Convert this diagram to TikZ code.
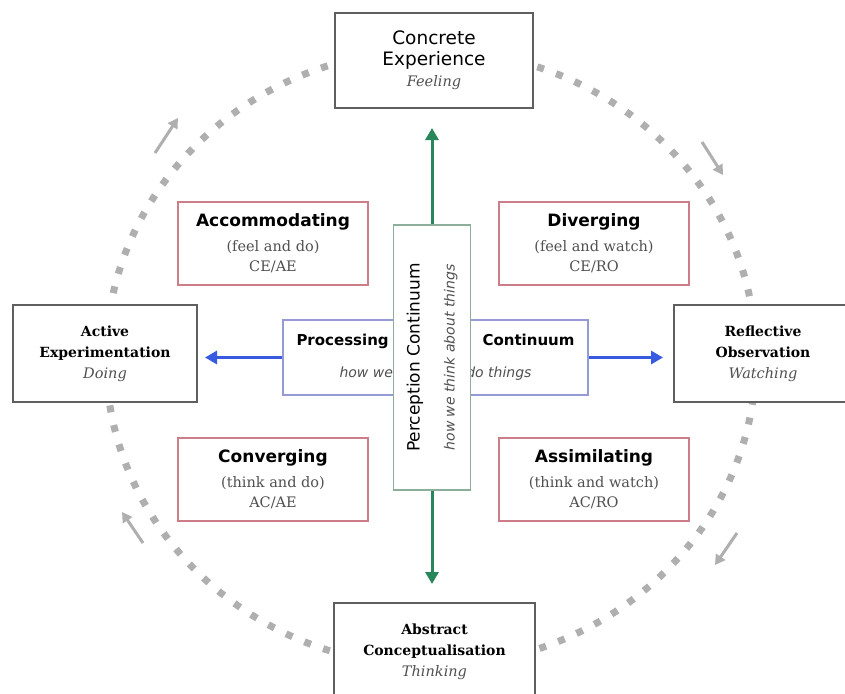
\documentclass[tikz,border=0pt]{standalone}
\usepackage{fontspec}
\setmainfont{DejaVu Serif}
\setsansfont{DejaVu Sans}
\usetikzlibrary{arrows.meta}
\definecolor{outerline}{RGB}{95,95,95}
\definecolor{quadline}{RGB}{205,125,135}
\definecolor{procline}{RGB}{150,155,215}
\definecolor{percline}{RGB}{140,175,155}
\definecolor{greenarrow}{RGB}{40,135,90}
\definecolor{bluearrow}{RGB}{55,90,225}
\definecolor{dotgray}{RGB}{175,175,175}
\definecolor{subtext}{RGB}{80,80,80}
\begin{document}
\begin{tikzpicture}[x=1pt,y=-1pt,
  outerbox/.style={draw=outerline, line width=2pt, fill=white, align=center, inner sep=0pt},
  cebox/.style={outerbox, font=\sffamily\fontsize{18.5}{21}\selectfont},
  serifbox/.style={outerbox, font=\rmfamily\bfseries\fontsize{14}{21}\selectfont},
  quadbox/.style={draw=quadline, line width=1.4pt, fill=white, align=center, inner sep=0pt,
    minimum width=190pt, minimum height=83pt, font=\rmfamily\fontsize{14.5}{20}\selectfont},
  cycarrow/.style={draw=dotgray, line width=3pt, -{Triangle[width=11pt,length=10pt]}},
  greenarr/.style={draw=greenarrow, line width=3pt, -{Triangle[width=13pt,length=12pt]}},
  bluearr/.style={draw=bluearrow, line width=3pt, -{Triangle[width=13pt,length=12pt]}}]
\newcommand{\qtitle}[1]{{\sffamily\bfseries\fontsize{17}{20}\selectfont #1}}
\newcommand{\qsub}[1]{{\color{subtext}#1}}
\newcommand{\itsub}[1]{{\rmfamily\mdseries\itshape\color{subtext}\fontsize{14.5}{21}\selectfont #1}}
\clip (0,0) rectangle (845,693);
\fill[white] (0,0) rectangle (845,693);
% dotted cycle
\draw[dotgray, line width=7pt, dash pattern=on 7pt off 13pt] (431,358) ellipse [x radius=325, y radius=308];
% small cycle arrows
\coordinate (tl1) at (155,153); \coordinate (tl2) at (178,118);
\coordinate (tr1) at (702,142); \coordinate (tr2) at (723,175);
\coordinate (br1) at (737,533); \coordinate (br2) at (715,565);
\coordinate (bl1) at (143,543); \coordinate (bl2) at (122,512);
\draw[cycarrow] (tl1) -- (tl2);
\draw[cycarrow] (tr1) -- (tr2);
\draw[cycarrow] (br1) -- (br2);
\draw[cycarrow] (bl1) -- (bl2);
% outer boxes
\node[cebox, minimum width=198pt, minimum height=95pt] (ce) at (434,60.5)
  {Concrete\\Experience\\\itsub{Feeling}};
\node[serifbox, minimum width=184pt, minimum height=97pt] (ae) at (105,353.5)
  {Active\\Experimentation\\\itsub{Doing}};
\node[serifbox, minimum width=178pt, minimum height=97pt] (ro) at (763,353.5)
  {Reflective\\Observation\\\itsub{Watching}};
\node[serifbox, minimum width=201pt, minimum height=97pt] (ac) at (434.5,651.5)
  {Abstract\\Conceptualisation\\\itsub{Thinking}};
% quadrant boxes
\node[quadbox] (acc) at (273,243.5)
  {\qtitle{Accommodating}\\[5pt]\qsub{(feel and do)}\\\qsub{CE/AE}};
\node[quadbox] (div) at (594,243.5)
  {\qtitle{Diverging}\\[5pt]\qsub{(feel and watch)}\\\qsub{CE/RO}};
\node[quadbox] (conv) at (273,479.5)
  {\qtitle{Converging}\\[5pt]\qsub{(think and do)}\\\qsub{AC/AE}};
\node[quadbox] (assim) at (594,479.5)
  {\qtitle{Assimilating}\\[5pt]\qsub{(think and watch)}\\\qsub{AC/RO}};
% processing continuum
\node[draw=procline, line width=1.4pt, fill=white, align=center, inner sep=0pt,
  minimum width=305pt, minimum height=75pt, font=\sffamily\fontsize{14}{20}\selectfont] (proc) at (435.5,357.5)
  {\makebox[278pt]{\bfseries\fontsize{15}{20}\selectfont Processing\hfill Continuum}\\[12pt]\makebox[192pt]{\itshape\color{subtext}how we\hfill do things}};
% perception continuum
\node[draw=percline, line width=1.4pt, fill=white, align=center, inner sep=0pt, rotate=90,
  minimum width=265pt, minimum height=77pt, font=\sffamily\fontsize{14}{20}\selectfont] (perc) at (432,357.5)
  {{\fontsize{17}{20}\selectfont Perception Continuum}\\[15pt]{\itshape\color{subtext}how we think about things}};
% arrows
\coordinate (gtop) at (432,128);
\coordinate (gbot) at (432,584);
\coordinate (bleft) at (205,357.5);
\coordinate (bright) at (663,357.5);
\draw[greenarr] (perc.east) -- (gtop);
\draw[greenarr] (perc.west) -- (gbot);
\draw[bluearr] (proc.west) -- (bleft);
\draw[bluearr] (proc.east) -- (bright);
\end{tikzpicture}
\end{document}
